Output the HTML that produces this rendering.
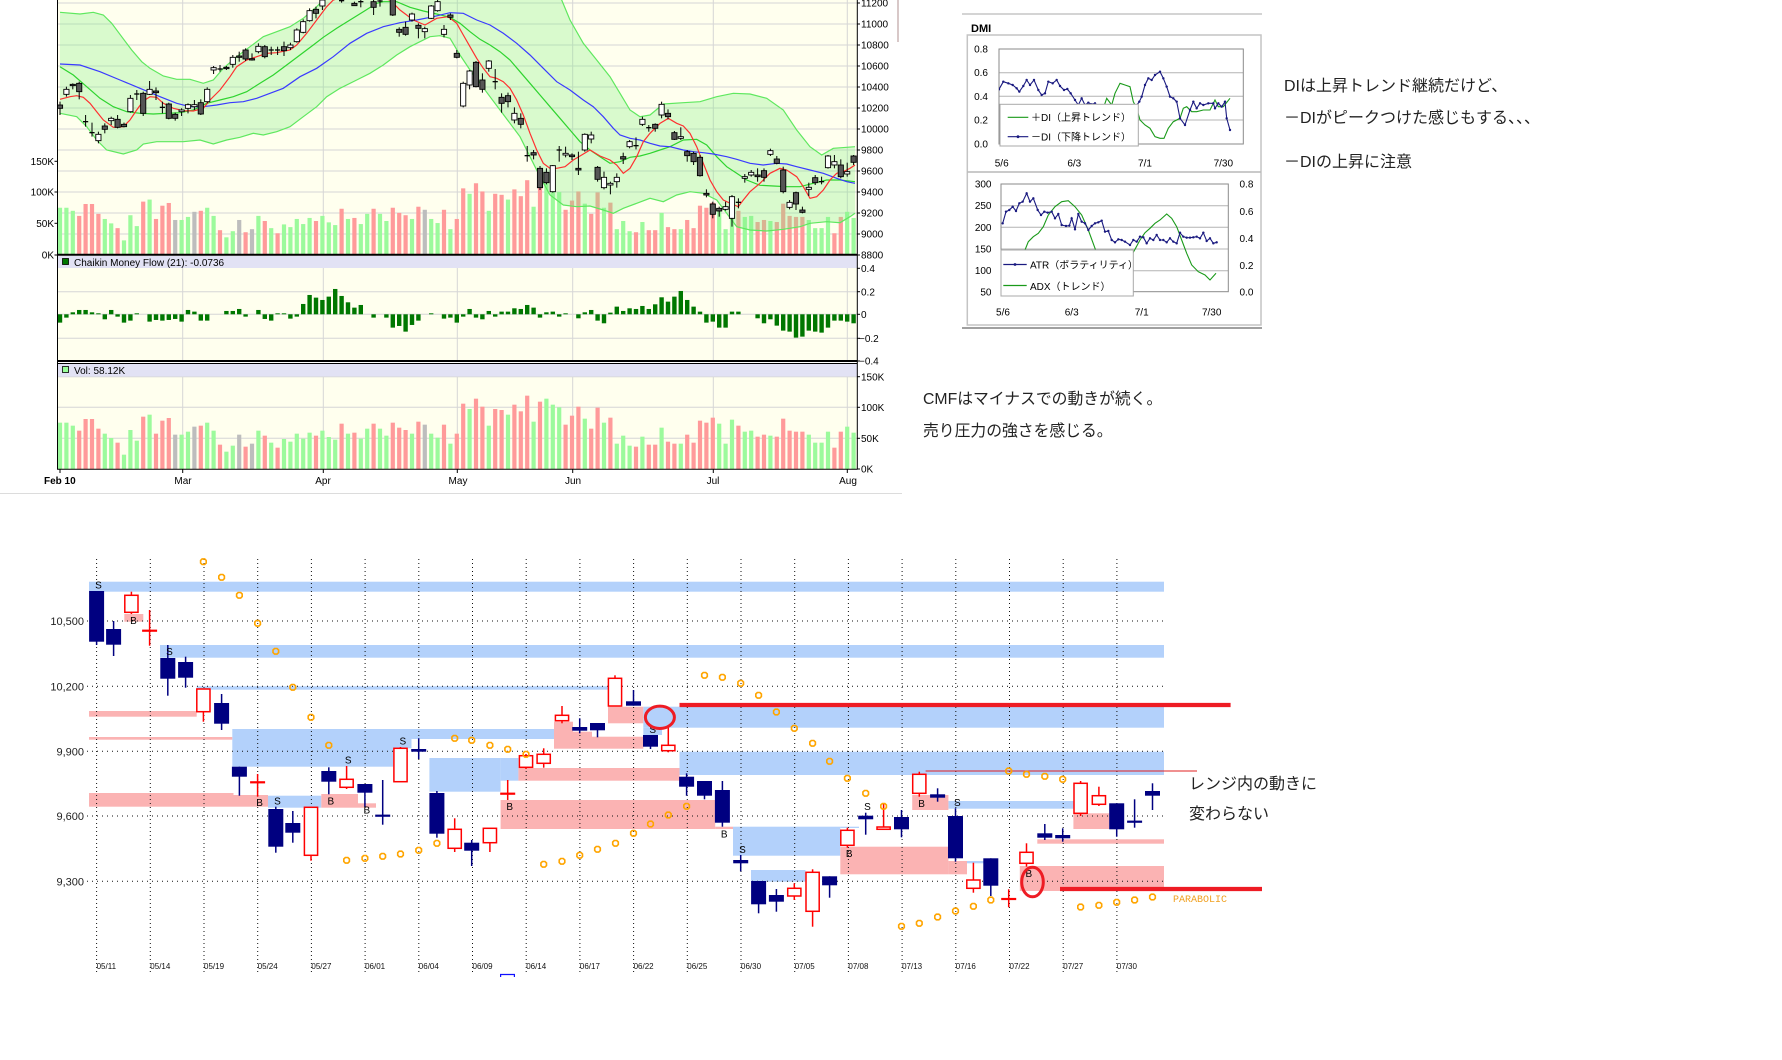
<!DOCTYPE html>
<html><head><meta charset="utf-8">
<style>
html,body{margin:0;padding:0;background:#fff;}
svg{display:block;}
text{font-family:"Liberation Sans","Noto Sans CJK JP",sans-serif;}
.ax{font-size:10px;fill:#000;}
.jp{font-size:16px;fill:#222;}
.mono{font-family:"Liberation Mono",monospace;}
</style></head><body>
<svg id="s" xmlns="http://www.w3.org/2000/svg" width="1782" height="1060" viewBox="0 0 1782 1060">
<defs>
<clipPath id="cp"><rect x="57.5" y="0" width="799.5" height="254"/></clipPath>
<clipPath id="cd1"><rect x="999" y="49" width="244.3" height="95"/></clipPath>
<clipPath id="cd2"><rect x="1001" y="184" width="227.3" height="108"/></clipPath>
</defs>

<!-- ============ UPPER STOCK CHART ============ -->
<rect x="57" y="0" width="800" height="255" fill="#ffffee"/>
<rect x="57" y="268" width="800" height="93" fill="#ffffee"/>
<rect x="57" y="376.5" width="800" height="92.5" fill="#ffffee"/>
<g id="grid" stroke="#d6d6d6" stroke-width="1"></g>
<g id="vol1" clip-path="url(#cp)"></g>
<g id="band" clip-path="url(#cp)"></g>
<g id="cnd" clip-path="url(#cp)"></g>
<g id="cmf"></g>
<g id="vol2"></g>

<!-- headers -->
<rect x="57.5" y="256" width="799.5" height="12" fill="#e2e2f4"/>
<rect x="57.5" y="364" width="799.5" height="12.5" fill="#e2e2f4"/>
<rect x="62.5" y="258.5" width="6" height="6" fill="#007700" stroke="#000" stroke-width="0.8"/>
<text x="74" y="266" style="font-size:10px" fill="#000">Chaikin Money Flow (21): -0.0736</text>
<rect x="62.5" y="366.5" width="6" height="6" fill="#99ff99" stroke="#000" stroke-width="0.8"/>
<text x="74" y="374" style="font-size:10px" fill="#000">Vol: 58.12K</text>

<!-- frames -->
<g stroke="#000" fill="none">
<line x1="57.5" y1="0" x2="57.5" y2="469.5" stroke-width="1"/>
<line x1="857.3" y1="0" x2="857.3" y2="469.5" stroke-width="1"/>
<line x1="57" y1="254.8" x2="857.5" y2="254.8" stroke-width="2"/>
<line x1="57" y1="361" x2="857.5" y2="361" stroke-width="2"/>
<line x1="57" y1="363.5" x2="857.5" y2="363.5" stroke-width="1"/>
<line x1="57" y1="469.2" x2="857.5" y2="469.2" stroke-width="1"/>
</g>
<g id="ticks" stroke="#000" stroke-width="1"></g>

<!-- right axis labels price -->
<g class="ax">
<text x="861" y="6.6">11200</text>
<text x="861" y="27.6">11000</text>
<text x="861" y="48.6">10800</text>
<text x="861" y="69.6">10600</text>
<text x="861" y="90.6">10400</text>
<text x="861" y="111.6">10200</text>
<text x="861" y="132.6">10000</text>
<text x="861" y="153.6">9800</text>
<text x="861" y="174.6">9600</text>
<text x="861" y="195.6">9400</text>
<text x="861" y="216.6">9200</text>
<text x="861" y="237.6">9000</text>
<text x="861" y="258.6">8800</text>
<text x="861" y="272">0.4</text>
<text x="861" y="295.3">0.2</text>
<text x="861" y="318">0</text>
<text x="859" y="342">−0.2</text>
<text x="859" y="364.6">−0.4</text>
<text x="861" y="380.3">150K</text>
<text x="861" y="411">100K</text>
<text x="861" y="442">50K</text>
<text x="861" y="472.6">0K</text>
<text x="54" y="165" text-anchor="end">150K</text>
<text x="54" y="195.6" text-anchor="end">100K</text>
<text x="54" y="227" text-anchor="end">50K</text>
<text x="54" y="258.6" text-anchor="end">0K</text>
<text x="44" y="484" style="font-weight:bold">Feb 10</text>
<text x="183" y="484" text-anchor="middle">Mar</text>
<text x="323" y="484" text-anchor="middle">Apr</text>
<text x="458" y="484" text-anchor="middle">May</text>
<text x="573" y="484" text-anchor="middle">Jun</text>
<text x="713" y="484" text-anchor="middle">Jul</text>
<text x="848" y="484" text-anchor="middle">Aug</text>
</g>
<line x1="0" y1="493.5" x2="902" y2="493.5" stroke="#dcdcdc" stroke-width="1"/>
<line x1="898" y1="0" x2="898" y2="42" stroke="#b09090" stroke-width="1"/>

<!-- ============ DMI ============ -->
<line x1="962" y1="14" x2="1262" y2="14" stroke="#a8a8a8" stroke-width="1"/>
<text x="971" y="32" style="font-size:11px;font-weight:bold" fill="#000">DMI</text>
<rect x="967.3" y="35" width="293.7" height="290" fill="#fff" stroke="#c4c4c4" stroke-width="1.5"/>
<line x1="967.3" y1="172" x2="1261" y2="172" stroke="#b8b8b8" stroke-width="1.5"/>
<line x1="962" y1="328" x2="1262" y2="328" stroke="#a0a0a0" stroke-width="2"/>
<g stroke="#b4b4b4" stroke-width="1">
<line x1="999" y1="72.7" x2="1243.3" y2="72.7"/><line x1="999" y1="96.3" x2="1243.3" y2="96.3"/><line x1="999" y1="120" x2="1243.3" y2="120"/>
<line x1="1001" y1="205.7" x2="1228.3" y2="205.7"/><line x1="1001" y1="227.3" x2="1228.3" y2="227.3"/><line x1="1001" y1="249" x2="1228.3" y2="249"/><line x1="1001" y1="270.7" x2="1228.3" y2="270.7"/>
</g>
<rect x="999" y="49" width="244.3" height="95" fill="none" stroke="#8a8a8a" stroke-width="1"/>
<rect x="1001" y="184" width="227.3" height="107.7" fill="none" stroke="#8a8a8a" stroke-width="1"/>
<g id="dmi"></g>
<!-- legends -->
<rect x="1000" y="104.3" width="138.3" height="41.7" fill="#fff" stroke="#a8a8a8" stroke-width="1"/>
<line x1="1007.7" y1="117.3" x2="1028.3" y2="117.3" stroke="#1a9a1a" stroke-width="1.2"/>
<line x1="1007.7" y1="136.7" x2="1028.3" y2="136.7" stroke="#1a1a80" stroke-width="1.2"/>
<circle cx="1018" cy="136.7" r="1.4" fill="#1a1a80"/>
<text x="1031" y="121" style="font-size:10px" fill="#000">＋DI（上昇トレンド）</text>
<text x="1031" y="140.4" style="font-size:10px" fill="#000">－DI（下降トレンド）</text>
<rect x="1001" y="250" width="132.3" height="46" fill="#fff" stroke="#a8a8a8" stroke-width="1"/>
<line x1="1003.3" y1="264.5" x2="1026.7" y2="264.5" stroke="#1a1a80" stroke-width="1.2"/>
<circle cx="1015" cy="264.5" r="1.4" fill="#1a1a80"/>
<line x1="1003.3" y1="285.5" x2="1026.7" y2="285.5" stroke="#1a9a1a" stroke-width="1.2"/>
<text x="1030" y="268.5" style="font-size:10px" fill="#000">ATR（ボラティリティ）</text>
<text x="1030" y="290" style="font-size:10px" fill="#000">ADX（トレンド）</text>
<g style="font-size:10px" fill="#000">
<text x="988" y="52.5" text-anchor="end">0.8</text>
<text x="988" y="76.2" text-anchor="end">0.6</text>
<text x="988" y="99.8" text-anchor="end">0.4</text>
<text x="988" y="123.5" text-anchor="end">0.2</text>
<text x="988" y="147.5" text-anchor="end">0.0</text>
<text x="1001.7" y="166.5" text-anchor="middle">5/6</text>
<text x="1074.3" y="166.5" text-anchor="middle">6/3</text>
<text x="1145" y="166.5" text-anchor="middle">7/1</text>
<text x="1223.3" y="166.5" text-anchor="middle">7/30</text>
<text x="991.5" y="187.5" text-anchor="end">300</text>
<text x="991.5" y="209.2" text-anchor="end">250</text>
<text x="991.5" y="230.8" text-anchor="end">200</text>
<text x="991.5" y="252.5" text-anchor="end">150</text>
<text x="991.5" y="274.2" text-anchor="end">100</text>
<text x="991.5" y="295.5" text-anchor="end">50</text>
<text x="1239.5" y="187.5">0.8</text>
<text x="1239.5" y="215.2">0.6</text>
<text x="1239.5" y="242.2">0.4</text>
<text x="1239.5" y="268.8">0.2</text>
<text x="1239.5" y="295.5">0.0</text>
<text x="1003" y="315.3" text-anchor="middle">5/6</text>
<text x="1071.7" y="315.3" text-anchor="middle">6/3</text>
<text x="1141.7" y="315.3" text-anchor="middle">7/1</text>
<text x="1211.7" y="315.3" text-anchor="middle">7/30</text>
</g>

<!-- annotations -->
<text class="jp" x="1284" y="91">DIは上昇トレンド継続だけど、</text>
<text class="jp" x="1284" y="123">－DIがピークつけた感じもする、、、</text>
<text class="jp" x="1284" y="167">－DIの上昇に注意</text>
<text class="jp" x="923" y="404" style="font-size:15.8px">CMFはマイナスでの動きが続く。</text>
<text class="jp" x="923" y="436" style="font-size:15.8px">売り圧力の強さを感じる。</text>

<!-- ============ LOWER CHART ============ -->
<g id="bands"></g>
<g id="dots" stroke="#111" stroke-width="1" fill="none"></g>
<line x1="925.6" y1="771" x2="1197" y2="771" stroke="#e02020" stroke-width="1"/>
<g id="lc"></g>
<g id="pd" fill="none" stroke="#ffa500" stroke-width="1.6"></g>
<line x1="679.5" y1="705" x2="1230.6" y2="705" stroke="#ee1c24" stroke-width="4.2"/>
<line x1="1060" y1="889" x2="1262" y2="889" stroke="#ee1c24" stroke-width="4.2"/>
<g style="font-size:10px" fill="#000" text-anchor="middle">
<text x="98.5" y="588.5">S</text><text x="133.4" y="624.2">B</text><text x="169.4" y="655.2">S</text>
<text x="259.6" y="806.2">B</text><text x="277.4" y="804.5">S</text><text x="330.8" y="804.5">B</text>
<text x="348.2" y="763.5">S</text><text x="366.8" y="813.5">B</text><text x="402.8" y="744.5">S</text>
<text x="509.7" y="810.2">B</text><text x="652.7" y="732.8">S</text><text x="724.2" y="837.5">B</text>
<text x="742.5" y="852.8">S</text><text x="849.2" y="856.8">B</text><text x="867.5" y="810.2">S</text>
<text x="921.6" y="806.8">B</text><text x="957.3" y="806.2">S</text><text x="1028.8" y="876.8">B</text>
</g>
<ellipse cx="659.9" cy="717.3" rx="14.5" ry="11.2" fill="none" stroke="#ee1c24" stroke-width="3"/>
<ellipse cx="1032.5" cy="882" rx="10.8" ry="14.8" fill="none" stroke="#ee1c24" stroke-width="3"/>
<g style="font-size:11px" fill="#222" text-anchor="end">
<text x="84" y="625">10,500</text>
<text x="84" y="690.3">10,200</text>
<text x="84" y="755.3">9,900</text>
<text x="84" y="820">9,600</text>
<text x="84" y="885.3">9,300</text>
</g>
<g class="mono" style="font-size:8px" fill="#111">
<text x="96.6" y="969">05/11</text><text x="150.3" y="969">05/14</text><text x="204" y="969">05/19</text>
<text x="257.7" y="969">05/24</text><text x="311.4" y="969">05/27</text><text x="365.1" y="969">06/01</text>
<text x="418.8" y="969">06/04</text><text x="472.5" y="969">06/09</text><text x="526.2" y="969">06/14</text>
<text x="579.9" y="969">06/17</text><text x="633.6" y="969">06/22</text><text x="687.3" y="969">06/25</text>
<text x="741" y="969">06/30</text><text x="794.7" y="969">07/05</text><text x="848.4" y="969">07/08</text>
<text x="902.1" y="969">07/13</text><text x="955.8" y="969">07/16</text><text x="1009.5" y="969">07/22</text>
<text x="1063.2" y="969">07/27</text><text x="1116.9" y="969">07/30</text>
</g>
<path d="M500.6 977 V974.5 H514.4 V977" fill="none" stroke="#1010ff" stroke-width="1.2"/>
<text class="mono" x="1173" y="902" style="font-size:10px" fill="#f0a020">PARABOLIC</text>
<text x="1189" y="789" style="font-size:16px" fill="#222">レンジ内の動きに</text>
<text x="1189" y="819" style="font-size:16px" fill="#222">変わらない</text>
</svg>

<script>
(function(){
function g(id){return document.getElementById(id);}
var s;
s='';
[3,24,45,66,87,108,129,150,171,192,213,234].forEach(function(y){s+='<line x1="57.5" y1="'+y+'" x2="857" y2="'+y+'"/>';});
[291.7,314.3,338.3].forEach(function(y){s+='<line x1="57.5" y1="'+y+'" x2="857" y2="'+y+'"/>';});
[376.7,407.3,438.3].forEach(function(y){s+='<line x1="57.5" y1="'+y+'" x2="857" y2="'+y+'"/>';});
[182.7,323.3,457.3,572.7,713.3,847.3].forEach(function(x){
 s+='<line x1="'+x+'" y1="0" x2="'+x+'" y2="254"/>';
 s+='<line x1="'+x+'" y1="268" x2="'+x+'" y2="360"/>';
 s+='<line x1="'+x+'" y1="376.5" x2="'+x+'" y2="469"/>';
});
g('grid').innerHTML=s;
s='';
[3,24,45,66,87,108,129,150,171,192,213,234,255,268.3,291.7,314.3,338.3,361,376.7,407.3,438.3,469].forEach(function(y){s+='<line x1="857" y1="'+y+'" x2="860" y2="'+y+'"/>';});
[161.3,192,223.3,255].forEach(function(y){s+='<line x1="54.5" y1="'+y+'" x2="57.5" y2="'+y+'"/>';});
[182.7,323.3,457.3,572.7,713.3,847.3,60].forEach(function(x){s+='<line x1="'+x+'" y1="469" x2="'+x+'" y2="473"/>';});
g('ticks').innerHTML=s;

function X(i){return 60+6.4*i;}
var vol="G518 G518 G527 P542 P507 P507 P536 G551 G564 P578 G614 G540 G572 P500 G494 P551 P512 P504 Y554 G554 G545 Y530 P527 G518 G542 P584 G605 G587 Y554 P590 Y581 G542 P557 G578 P593 G567 G575 G551 G566 G548 P557 G542 G561 G569 P521 G551 P548 G566 G536 P521 G536 G557 P518 P533 P540 G551 P515 Y524 G551 G563 P524 G581 P551 P461 G477 P446 P470 G527 P477 P480 G494 P464 P484 P437 G515 P455 G446 G464 G472 P524 P497 P470 G506 P536 P473 G518 P503 G581 G557 G587 P590 G560 P584 P584 G533 P575 P581 G581 P554 P578 P512 P518 P503 G521 G581 G509 P527 G545 G542 P560 P554 G557 P560 P506 P542 P545 P545 G554 G578 G578 G545 P593 P545 G530 G548".split(' ');
var col={G:'#9cfa9c',P:'#ff9a9a',Y:'#bdbdbd'};
var s1='',s2='';
vol.forEach(function(v,i){
 var c=col[v[0]],t=+v.slice(1),h=(657-t)/3,x=X(i)-2.1;
 s1+='<rect x="'+x+'" y="'+(255-h*1.02)+'" width="4.2" height="'+(h*1.02)+'" fill="'+c+'"/>';
 s2+='<rect x="'+x+'" y="'+(469-h)+'" width="4.2" height="'+h+'" fill="'+c+'"/>';
});
g('vol1').innerHTML=s1; g('vol2').innerHTML=s2;

var cm=[-25,-10,6,13,13,6,3,-15,13,-7,-25,-19,3,0,-22,-17,-19,-17,-14,-22,13,8,-19,-19,0,0,10,10,16,-7,0,13,-14,-19,3,3,-13,-7,31,58,50,43,53,76,55,36,20,28,0,-10,0,-10,-40,-35,-52,-32,-19,0,3,0,-13,-10,-25,-7,16,-10,-15,10,-7,8,8,18,16,28,20,-10,6,8,-7,3,0,-12,6,13,-19,-27,5,23,10,18,16,25,16,30,51,38,53,70,43,23,8,-25,-22,-40,-40,8,8,0,0,-12,-27,-15,-34,-49,-52,-70,-67,-49,-52,-55,-40,-19,-19,-22,-27];
s='';
cm.forEach(function(v,i){ if(!v) return; var h=Math.abs(v)/3, x=X(i)-2.2, y=v>0?314.3-h:314.3;
 s+='<rect x="'+x+'" y="'+y+'" width="4.4" height="'+h+'" fill="#007700"/>';});
g('cmf').innerHTML=s;

function P(A,B){var p=[];(A||[]).forEach(function(a){p.push([a[0]/3+50,a[1]/3]);});(B||[]).forEach(function(b){p.push([b[0]/3+450,b[1]/3]);});return p;}
function str(p){return p.map(function(q){return q[0].toFixed(1)+','+q[1].toFixed(1);}).join(' ');}
var up=P([[30,37],[90,42],[130,37],[160,45],[185,70],[215,110],[245,150],[275,185],[300,205],[340,228],[380,238],[420,238],[460,250],[490,240],[520,205],[560,170],[600,140],[640,110],[680,95],[720,80],[760,55],[800,20],[820,0],[850,-40]],
 [[300,-40],[335,0],[360,60],[400,130],[440,180],[480,230],[510,280],[540,330],[570,350],[600,345],[640,312],[700,308],[750,305],[800,290],[850,280],[900,282],[950,295],[1000,330],[1040,390],[1080,440],[1115,465],[1150,445],[1190,442],[1215,440]]);
var lo=P([[30,340],[80,350],[110,380],[140,420],[170,450],[220,462],[260,450],[280,432],[320,425],[400,425],[450,420],[490,432],[530,420],[570,412],[610,400],[640,405],[680,395],[720,380],[760,350],[800,320],[830,290],[870,265],[920,240],[960,220],[1000,195],[1040,165],[1080,140],[1110,125],[1140,110],[1170,107],[1200,115]],
 [[30,165],[60,210],[90,250],[120,290],[150,330],[180,370],[210,410],[240,470],[270,530],[300,585],[340,615],[380,620],[420,618],[460,630],[490,640],[520,625],[560,610],[600,595],[640,605],[680,585],[720,575],[760,580],[800,600],[830,640],[860,680],[900,690],[950,693],[1000,688],[1050,680],[1080,670],[1130,665],[1170,668],[1200,650],[1215,640]]);
var mid=P([[30,200],[70,225],[110,260],[150,295],[190,320],[230,335],[270,340],[310,342],[350,340],[390,338],[430,330],[470,310],[510,300],[550,290],[590,275],[630,250],[670,225],[710,195],[750,165],[790,135],[820,112],[860,85],[900,60],[940,35],[980,10],[1000,5],[1040,5],[1080,22],[1120,33],[1160,42],[1200,52]],
 [[30,70],[60,95],[90,118],[120,135],[150,155],[180,180],[210,215],[240,250],[270,285],[300,320],[330,355],[360,390],[390,425],[420,450],[450,470],[480,490],[510,485],[540,472],[570,468],[600,460],[630,450],[660,440],[700,420],[740,418],[770,435],[800,470],[830,500],[860,520],[890,540],[930,556],[970,558],[1010,560],[1050,560],[1090,550],[1130,540],[1170,540],[1215,545]]);
var blue=P([[30,192],[90,195],[150,215],[210,240],[270,265],[330,290],[380,310],[420,320],[460,320],[500,315],[540,308],[580,305],[620,295],[660,280],[700,265],[750,230],[800,205],[850,170],[900,130],[950,100],[1000,80],[1050,68],[1100,60],[1150,50],[1200,38]],
 [[40,40],[80,60],[120,75],[160,100],[200,130],[240,165],[280,205],[320,245],[360,270],[400,300],[430,320],[460,350],[490,385],[510,405],[540,415],[570,420],[600,430],[630,438],[660,440],[700,450],[730,455],[760,458],[790,462],[830,470],[860,478],[900,490],[940,495],[980,490],[1010,492],[1040,500],[1080,510],[1120,520],[1160,535],[1190,545],[1215,550]]);
var red=P([[30,298],[60,290],[80,287],[100,292],[120,310],[140,335],[160,360],[190,382],[220,380],[240,360],[260,330],[280,303],[300,290],[320,292],[340,310],[370,325],[400,332],[430,333],[460,325],[480,300],[510,270],[540,230],[560,200],[590,180],[620,170],[650,160],[680,158],[720,150],[740,135],[770,100],[800,60],[830,20],[850,0],[900,-15],[980,-10],[1020,0],[1050,30],[1090,60],[1125,75],[1160,55],[1194,50]],
 [[20,70],[40,105],[60,140],[80,175],[100,205],[120,230],[140,235],[160,245],[180,265],[200,300],[220,345],[240,400],[260,450],[280,490],[300,505],[320,505],[345,500],[370,480],[395,465],[420,450],[450,468],[480,480],[500,495],[520,520],[540,505],[560,470],[580,425],[600,400],[630,370],[655,355],[680,370],[700,378],[720,400],[740,440],[760,490],[780,540],[800,575],[820,600],[845,612],[865,620],[880,600],[900,575],[930,550],[960,520],[990,505],[1010,510],[1040,530],[1060,560],[1080,595],[1100,590],[1120,570],[1140,540],[1160,520],[1180,515],[1200,505],[1215,495]]);
s='<polygon points="'+str(up.concat(lo.slice().reverse()))+'" fill="#80f080" fill-opacity="0.3"/>';
s+='<polyline points="'+str(up)+'" fill="none" stroke="#5fe85f" stroke-width="1.2"/>';
s+='<polyline points="'+str(lo)+'" fill="none" stroke="#5fe85f" stroke-width="1.2"/>';
s+='<polyline points="'+str(mid)+'" fill="none" stroke="#2ed42e" stroke-width="1.2"/>';
s+='<polyline points="'+str(blue)+'" fill="none" stroke="#3a3aff" stroke-width="1.2"/>';
s+='<polyline points="'+str(red)+'" fill="none" stroke="#ff3030" stroke-width="1.2"/>';
g('band').innerHTML=s;

var cs=[['K',315,325,305,345],['W',268,283,260,290],['K',253,257,250,268],['K',250,275,245,298],['X',365,365,345,380],['X',398,398,368,410],['W',403,422,395,430],['K',378,388,370,400],['W',355,362,350,375],['K',358,382,345,385],
['K',373,380,368,382],['W',295,335,285,338],['X',282,282,270,300],['K',280,340,275,348],['W',268,283,243,285],['K',273,278,262,300],['X',322,322,305,340],['K',312,355,308,358],['K',343,355,338,362],['W',330,335,325,348],
['W',314,325,310,340],['W',314,320,300,330],['K',308,342,298,345],['W',268,305,262,310],['W',203,210,198,222],['X',207,207,195,215],['K',202,206,198,210],['W',172,193,165,203],['K',168,172,155,185],['K',150,177,145,183],
['K',176,180,160,182],['W',139,155,130,160],['K',140,170,135,175],['X',150,150,140,165],['X',150,150,140,165],['K',140,152,125,168],['W',135,143,128,150],['W',90,125,85,128],['W',65,97,58,100],['W',32,62,25,65],
['K',28,40,20,55],['W',0,18,-5,30],['W',-30,-10,-40,-3],['W',-30,-10,-40,-3],['X',2,2,-10,8],['W',-30,-10,-40,-3],['K',10,17,5,18],['X',5,5,-5,22],['W',-30,-10,-40,-3],['K',5,22,-2,45],
['X',3,3,-5,20],['W',-30,-10,-40,-3],['K',-2,45,-5,48],['K',88,97,82,110],['K',82,103,65,107],['W',42,60,38,65],['K',76,85,70,115],['W',86,95,80,115],['W',18,55,15,57],['W',5,32,-2,35],
['W',88,103,75,112],['K',45,52,40,60],['K',160,172,150,175],['W',250,318,245,322],['W',213,255,210,268],['K',187,260,183,262],['K',240,268,220,278],['W',183,205,180,215],['X',245,245,207,268],['K',292,310,280,338],
['K',287,305,278,322],['W',340,360,322,370],['K',355,373,340,385],['X',467,467,438,485],['K',458,465,450,478],['K',505,563,498,570],['K',517,548,505,553],['W',497,575,495,578],['X',450,450,438,485],['W',460,465,440,472],
['K',465,470,460,480],['K',505,510,455,525],['W',403,450,400,455],['W',405,417,395,430],['K',502,538,498,545],['W',532,563,515,568],['W',550,555,545,583],['W',532,545,520,563],['K',470,477,458,492],['W',425,440,420,445],
['X',437,437,412,448],['W',358,373,350,378],['X',383,383,375,395],['K',373,385,370,395],['W',313,345,305,355],['K',340,350,328,358],['K',398,418,393,420],['W',410,415,382,420],['K',455,467,450,485],['K',460,485,455,495],
['K',472,527,465,530],['K',580,585,568,592],['K',612,643,605,655],['K',625,633,620,650],['W',620,628,605,632],['W',590,655,585,680],['X',607,607,595,625],['W',530,535,522,548],['W',517,525,510,530],['K',525,530,505,545],
['K',512,532,505,545],['W',452,463,446,468],['K',477,490,468,493],['K',510,575,500,580],['W',607,622,600,628],['K',578,612,575,630],['K',630,637,620,640],['W',562,568,548,588],['K',533,548,525,555],['X',545,545,530,553],
['W',468,503,465,506],['W',485,495,465,505],['K',495,530,478,535],['W',515,522,488,530],['K',468,487,465,495]];
s='';
cs.forEach(function(c,i){var x=X(i);
 s+='<line x1="'+x+'" y1="'+(c[3]/3)+'" x2="'+x+'" y2="'+(c[4]/3)+'" stroke="#000" stroke-width="1"/>';
 if(c[0]=='X'){s+='<line x1="'+(x-2.6)+'" y1="'+(c[1]/3)+'" x2="'+(x+2.6)+'" y2="'+(c[1]/3)+'" stroke="#000" stroke-width="1.3"/>';}
 else{var h=Math.max((c[2]-c[1])/3,1.2);s+='<rect x="'+(x-2.6)+'" y="'+(c[1]/3)+'" width="5.2" height="'+h+'" fill="'+(c[0]=='W'?'#fff':'#555')+'" stroke="#000" stroke-width="0.9"/>';}
});
g('cnd').innerHTML=s;

function D(a){return a.map(function(q){return (960+q[0]/3).toFixed(1)+','+(10+q[1]/3).toFixed(1);}).join(' ');}
var mdi=[[117,238],[130,215],[145,220],[158,225],[170,235],[178,245],[190,228],[200,210],[210,225],[222,210],[235,240],[245,255],[255,250],[265,215],[278,220],[290,210],[300,228],[312,240],[322,237],[332,250],[345,270],[355,285],[365,265],[375,285],[385,278],[395,283],[405,280],[430,300],[460,310],[490,320],[520,300],[538,275],[545,260],[555,225],[565,205],[575,210],[585,195],[600,185],[610,205],[620,230],[630,260],[640,265],[650,275],[660,325],[675,345],[690,300],[700,275],[710,295],[720,280],[730,285],[745,280],[760,280],[765,295],[775,280],[785,290],[795,275],[800,325],[810,360]];
var pdi=[[125,380],[200,360],[300,350],[380,340],[400,330],[430,295],[440,265],[455,285],[465,250],[480,220],[495,225],[510,230],[520,275],[530,295],[540,330],[555,345],[570,355],[585,380],[600,385],[612,385],[625,355],[640,335],[660,325],[670,295],[680,290],[695,305],[710,305],[730,300],[750,300],[765,270],[775,290],[790,290],[810,265]];
var atr=[[128,640],[138,605],[148,600],[158,590],[168,603],[178,580],[188,575],[200,550],[210,575],[220,565],[233,600],[243,615],[253,605],[263,608],[275,605],[285,625],[295,612],[305,645],[318,648],[328,647],[335,625],[345,658],[355,612],[365,635],[375,640],[385,660],[395,648],[405,640],[415,637],[425,632],[435,665],[445,663],[455,690],[465,697],[475,688],[485,690],[495,695],[510,705],[520,690],[530,695],[540,680],[550,682],[560,700],[570,685],[580,690],[590,675],[600,690],[610,690],[620,697],[630,685],[640,695],[650,700],[660,668],[670,680],[680,683],[690,683],[700,682],[710,680],[720,685],[730,668],[740,693],[750,685],[760,700],[770,697]];
var adx=[[195,720],[205,695],[220,680],[235,670],[250,650],[265,615],[285,590],[305,575],[325,572],[345,590],[365,615],[385,660],[405,715],[420,760],[460,800],[500,760],[525,718],[540,690],[555,668],[570,655],[585,640],[600,630],[620,612],[635,625],[650,650],[665,690],[680,730],[695,765],[715,785],[735,795],[750,810],[768,790]];
s='<g clip-path="url(#cd1)"><polyline points="'+D(pdi)+'" fill="none" stroke="#1a9a1a" stroke-width="1.1"/>';
s+='<polyline points="'+D(mdi)+'" fill="none" stroke="#1a1a80" stroke-width="1.1"/>';
mdi.forEach(function(q){s+='<circle cx="'+(960+q[0]/3)+'" cy="'+(10+q[1]/3)+'" r="1.2" fill="#1a1a80"/>';});
s+='</g><g clip-path="url(#cd2)"><polyline points="'+D(adx)+'" fill="none" stroke="#1a9a1a" stroke-width="1.1"/>';
s+='<polyline points="'+D(atr)+'" fill="none" stroke="#1a1a80" stroke-width="1.1"/>';
atr.forEach(function(q){s+='<circle cx="'+(960+q[0]/3)+'" cy="'+(10+q[1]/3)+'" r="1.2" fill="#1a1a80"/>';});
s+='</g>';
g('dmi').innerHTML=s;

var blu=[[89,581.7,1164,591.7],[160,645,1164,657.7],[196.7,686.3,608,689.7],[232.3,729,393,766.7],[393,729,411.5,748.3],[411.5,729,554,739],[429.4,758,500.6,791.7],[500.6,758,518.4,780.7],[268,795.7,321.3,807.7],[643.3,706.7,1164,727.7],[643.3,727.7,662,735],[679.5,751.7,1164,775],[733,826.7,840.3,855.7],[840.3,826.7,859,828],[751,870,805.4,881.7],[948.4,801,1073.4,808.7],[966,861,984,863.3]];
var pnk=[[89,711,196.7,716.7],[89,737,232.3,739.7],[89,793,233.5,806.7],[233.5,795,268,806.7],[124.3,614,143.3,621.7],[321.3,794,358,807.7],[358,803.3,376,807.7],[500.6,800,715.2,829],[715.2,826.7,733,829],[518.4,768,679.5,780.7],[554,721.7,573,748.7],[573,731.7,592,748.7],[592,736.7,643.3,748.7],[608,706.7,643.3,723.3],[840.3,846.7,948.4,874.3],[948.4,861,967,874.3],[912.2,795,948.4,810],[1019.8,866,1164,891],[1037.3,839.3,1164,843.7],[1073.4,813.3,1109.2,829]];
s='';
blu.forEach(function(r){s+='<rect x="'+r[0]+'" y="'+r[1]+'" width="'+(r[2]-r[0])+'" height="'+(r[3]-r[1])+'" fill="#b3d1fb"/>';});
pnk.forEach(function(r){s+='<rect x="'+r[0]+'" y="'+r[1]+'" width="'+(r[2]-r[0])+'" height="'+(r[3]-r[1])+'" fill="#fbb3b3"/>';});
g('bands').innerHTML=s;
s='';
for(var i=0;i<20;i++){var x=(96.6+53.7*i).toFixed(1);s+='<line x1="'+x+'" y1="559" x2="'+x+'" y2="975" stroke-dasharray="1 3"/>';}
[621,686.3,751.3,816,881.3].forEach(function(y){s+='<line x1="87" y1="'+y+'" x2="1164" y2="'+y+'" stroke-dasharray="1 4"/>';});
g('dots').innerHTML=s;
var lc=[[96.6,'N',591,641.7,591,645],[113.6,'N',629,644.7,621,656],[131.4,'R',595.3,612.3,591.7,614],[149.6,'Rx',630.7,0,610,645.7],[167.8,'N',658,678.7,645,695.7],[185.6,'N',662,677.7,656.7,687.7],[203.4,'R',689,711.7,689,721.7],[221.6,'N',703,723.7,694,730],[239.4,'N',766.7,776.7,766.7,795.7],[257.6,'Rx',782.3,0,774,796.7],
[275.8,'N',809,846.7,806.7,852.7],[292.8,'N',823,832.7,811,842.7],[311,'R',807.3,855.3,807.3,860.7],[328.8,'N',771,781.7,767.3,794.3],[346.6,'R',779.3,787.3,766,789],[364.9,'N',784,792.7,784,806.7],[382.7,'Nx',815.7,0,780,824.7],[400.5,'R',748.3,781.7,747,781.7],[418.7,'N',749,751.7,738.3,759],[436.9,'N',793,833.7,791,837.7],
[454.7,'R',829.3,848.3,818.3,852],[471.7,'N',842.7,850.7,840,866],[489.9,'R',828.3,842.7,828.3,852],[507.7,'Rx',793.7,0,780,800],[526,'R',755.7,767.3,754,769],[543.7,'R',754.3,763.3,748.3,767.7],[562,'R',715.3,720.7,706,723.3],[579.7,'N',727,730.7,718.3,733.3],[597.5,'N',723,730.3,723,737.3],[615,'R',678.3,706,675.3,706],
[633.5,'N',701.3,705.7,690,705.7],[650.5,'N',735,746.7,735,749],[668.3,'R',745.3,750.7,726.7,752.3],[686.6,'N',776.7,786.7,773.3,795.7],[704.5,'N',781,795.7,781,799.3],[722.4,'N',790,822.7,781,826.7],[740.7,'N',860,863.3,855,871.3],[758.6,'N',881,904.3,881,913.3],[776.4,'N',895,901.7,889,911.7],[794.3,'R',888.3,896,883.3,900],
[812.6,'R',872.3,911.3,869.3,926.7],[829.6,'N',876.3,885.3,876.3,897.7],[847.4,'R',830.3,845.3,827.7,847.7],[865.7,'N',815.7,819.3,812.7,834.7],[883.6,'R',827,829.3,804,829.3],[901.5,'N',817,829.3,810,837.3],[919.3,'R',774.3,793.3,771.7,796.7],[937.6,'N',794.3,797.7,788.3,801.7],[955.5,'N',816,858.3,808.3,861.7],[973.4,'R',880,888.3,862.7,892.7],
[990.8,'N',858.3,885.7,858.3,896],[1008.7,'Rx',899,0,889.3,907.3],[1026.5,'R',852.3,863.3,843.3,866.7],[1044.8,'N',833.3,837.7,824,840],[1062.7,'N',835,838.3,828.3,841.7],[1080.6,'R',783.3,813.3,781,816],[1098.9,'R',795.7,804.3,786.7,806],[1116.7,'N',803.3,829.3,803.3,836.7],[1134.6,'Nx',821.7,0,799.3,827.7],[1152.5,'N',791,795.7,783.3,810]];
s='';
lc.forEach(function(c){var x=c[0],t=c[1],isR=t[0]=='R',cl=isR?'#ff0000':'#000080';
 s+='<line x1="'+x+'" y1="'+c[4]+'" x2="'+x+'" y2="'+c[5]+'" stroke="'+cl+'" stroke-width="1.5"/>';
 if(t.length==2){s+='<line x1="'+(x-7.5)+'" y1="'+c[2]+'" x2="'+(x+7.5)+'" y2="'+c[2]+'" stroke="'+cl+'" stroke-width="2.2"/>';}
 else if(isR){s+='<rect x="'+(x-6.6)+'" y="'+c[2]+'" width="13.2" height="'+Math.max(c[3]-c[2],2)+'" fill="#fff" stroke="#ff0000" stroke-width="1.5"/>';}
 else{s+='<rect x="'+(x-7.5)+'" y="'+c[2]+'" width="15" height="'+Math.max(c[3]-c[2],2.5)+'" fill="#000080"/>';}
});
g('lc').innerHTML=s;
var pd=[[203.4,561.7],[221.6,577.3],[239.4,595.3],[257.6,623.3],[275.8,651.3],[292.8,687.3],[311,717.3],[328.8,745.3],[346.6,860.3],[364.9,858.3],[382.7,856.3],[400.5,854],[418.7,850.3],[436.9,843.3],[454.7,738.3],[471.7,740.3],[489.9,745.3],[507.7,749.3],[526,754.3],[543.7,864.3],[562,861.3],[579.7,855.3],[597.5,849.3],[615.5,843.3],[633.5,833.3],[650.5,824],[668.3,815],[686.6,806.3],[704.5,675.3],[722.4,677.3],[740.7,683.3],[758.6,695.3],[776.4,712],[794.3,728.3],[812.6,743.3],[829.6,761.3],[847.4,778.3],[865.7,793.3],[883.6,806.3],[901.5,926.3],[919.3,923.3],[937.6,917],[955.5,911],[973.4,906.3],[990.8,900],[1008.7,771],[1026.5,774.3],[1044.8,776.3],[1062.7,779.3],[1080.6,907],[1098.9,905.3],[1116.7,902.3],[1134.6,900],[1152.5,897]];
s='';
pd.forEach(function(q){var x=q[0],y=q[1];s+='<path d="M'+(x-1.3)+' '+(y-2.8)+' H'+(x+1.3)+' L'+(x+2.8)+' '+(y-1.3)+' V'+(y+1.3)+' L'+(x+1.3)+' '+(y+2.8)+' H'+(x-1.3)+' L'+(x-2.8)+' '+(y+1.3)+' V'+(y-1.3)+' Z"/>';});
g('pd').innerHTML=s;
})();
</script>
</body></html>
